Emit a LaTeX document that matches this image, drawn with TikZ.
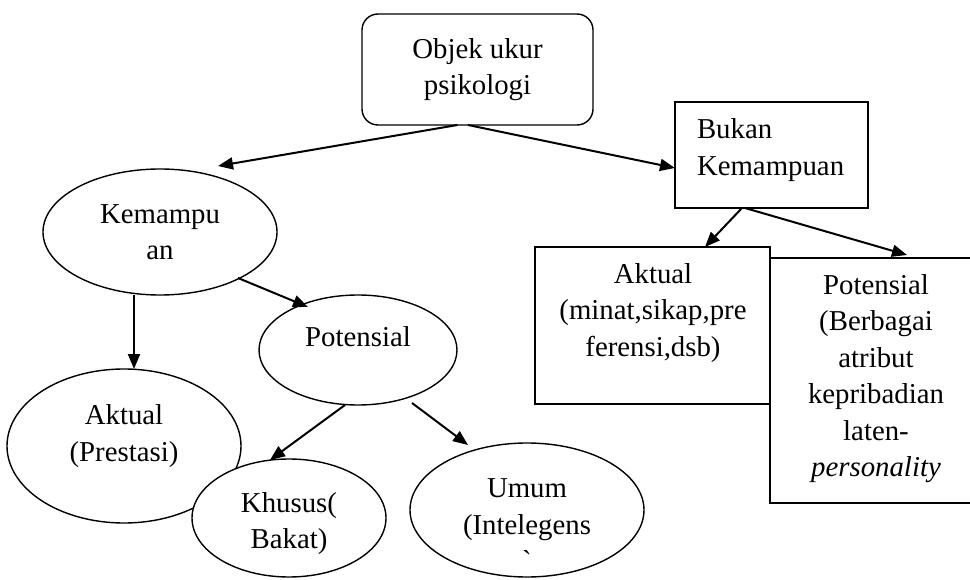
\documentclass[tikz,border=0pt]{standalone}
\usepackage{fontspec}
\setmainfont{Liberation Serif}
\newfontfamily\plainserif{Liberation Serif}
\usetikzlibrary{arrows.meta,shapes.geometric}
\begin{document}
\begin{tikzpicture}[x=1pt,y=1pt,
  every node/.style={font=\fontsize{28.8}{36.5}\selectfont, inner sep=0pt, outer sep=0pt},
  shp/.style={draw, line width=1.4pt, fill=white},
  oval/.style={shp, ellipse},
  box/.style={shp, rectangle},
  txt/.style={align=center},
  arr/.style={line width=2pt, -{Triangle[length=15pt,width=12pt]}}
]
\useasboundingbox (0,0) rectangle (970,-580);
\clip (0,0) rectangle (970,-580);
% shapes
\node[box, rounded corners=16pt, minimum width=231pt, minimum height=111pt, align=center] (root) at (477.5,-69.5) {Objek ukur\\psikologi};
\node[box, minimum width=193pt, minimum height=106pt] (bukan) at (771.5,-155) {};
\node[box, minimum width=235pt, minimum height=157pt] (aktR) at (652.5,-325.5) {};
\node[box, minimum width=212pt, minimum height=245pt] (potR) at (876,-380.5) {};
\node[oval, minimum width=234pt, minimum height=126pt, align=center] (kem) at (160,-232) {Kemampu\\an};
\node[oval, minimum width=198pt, minimum height=110pt] (pot) at (358,-350) {};
\node[oval, minimum width=234pt, minimum height=154pt] (aktP) at (124,-446) {};
\node[oval, minimum width=194pt, minimum height=118pt] (khu) at (289,-518) {};
\node[oval, minimum width=234pt, minimum height=134pt] (umum) at (527,-510) {};
% texts
\node[anchor=west, align=left] (bukanT) at (697,-150) {Bukan\\Kemampuan};
\node[txt] (aktRT) at (653,-313) {Aktual\\(minat,sikap,pre\\ferensi,dsb)};
\node[txt] (potRT) at (876,-378.5) {Potensial\\(Berbagai\\atribut\\kepribadian\\laten-\\\textit{personality}};
\node[txt] (potT) at (358,-337) {Potensial};
\node[txt] (aktPT) at (124,-436) {Aktual\\(Prestasi)};
\node[txt] (khuT) at (289,-523.5) {Khusus(\\Bakat)};
\node[txt] (umumT) at (527,-525) {Umum\\(Intelegens\\{\plainserif `}};
% arrows
\draw[arr] ([xshift=-20]root.south) -- ([shift={(58,66)}]kem.center);
\draw[arr] ([xshift=-9.5]root.south) -- ([yshift=-13]bukan.west);
\draw[arr] ([xshift=-26]kem.south) -- ([xshift=10]aktP.north);
\draw[arr] ([shift={(78,-46)}]kem.center) -- ([shift={(-50,43)}]pot.center);
\draw[arr] ([shift={(-13,-55)}]pot.center) -- ([shift={(-19,58)}]khu.center);
\draw[arr] ([shift={(54,-53)}]pot.center) -- ([shift={(-59,65)}]umum.center);
\draw[arr] ([xshift=-29.5]bukan.south) -- ([xshift=52.5]aktR.north);
\draw[arr] ([xshift=-26.5]bukan.south) -- ([shift={(31,3)}]potR.north);
\end{tikzpicture}
\end{document}
